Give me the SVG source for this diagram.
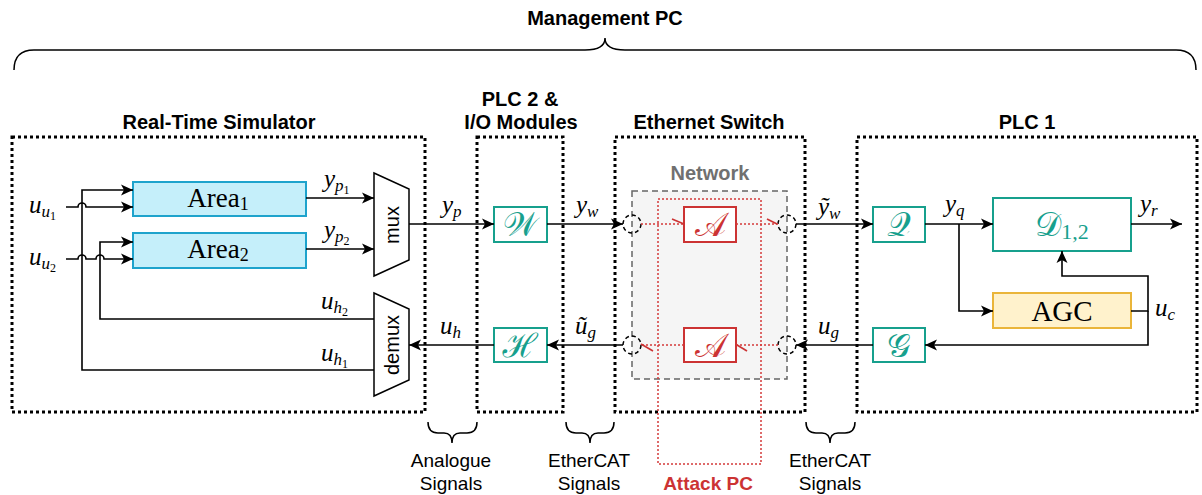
<svg xmlns="http://www.w3.org/2000/svg" width="1202" height="495" viewBox="0 0 1202 495">
  <style>
    .title { font-family: "Liberation Sans", Arial, sans-serif; font-weight: bold; font-size: 20px; fill: #000; text-anchor: middle; }
    .note { font-family: "Liberation Sans", Arial, sans-serif; font-size: 19px; fill: #000; text-anchor: middle; }
    .frame { fill: none; stroke: #000; stroke-width: 3; stroke-dasharray: 3 3; }
    .wire { fill: none; stroke: #000; stroke-width: 1.6; }
    .brace { fill: none; stroke: #000; stroke-width: 1.5; }
    .m { font-family: "Liberation Serif", "DejaVu Serif", serif; font-style: italic; font-size: 25px; fill: #000; }
    .up { font-style: normal; }
    .area { fill: #c5effa; stroke: #1ea3cc; stroke-width: 2; }
    .tealbox { fill: #fff; stroke: #17a08d; stroke-width: 2; }
    .redbox { fill: #fff; stroke: #cc3333; stroke-width: 2; }
    .agc { fill: #fff2cc; stroke: #eab53a; stroke-width: 2; }
    .cal { font-family: "DejaVu Serif", "Noto Sans", "DejaVu Sans", serif; font-size: 33px; text-anchor: middle; dominant-baseline: central; }
    .rm { font-family: "Liberation Serif", "DejaVu Serif", serif; font-size: 27px; fill: #000; text-anchor: middle; dominant-baseline: central; }
    .sans { font-family: "Liberation Sans", Arial, sans-serif; font-size: 20px; fill: #000; text-anchor: middle; dominant-baseline: central; }
    .port { fill: none; stroke: #000; stroke-width: 1.5; stroke-dasharray: 4 3; }
    .attack { fill: none; stroke: #d43a3a; stroke-width: 1.5; stroke-dasharray: 2 2; }
    .tick { stroke: #cc3333; stroke-width: 1.6; }
  </style>
  <defs>
    <marker id="arr" markerUnits="userSpaceOnUse" markerWidth="14" markerHeight="12" refX="12" refY="6" orient="auto">
      <path d="M0,0.5 L12,6 L0,11.5 L3,6 Z" fill="#000"/>
    </marker>
  </defs>

  <!-- overall management brace -->
  <g id="management-pc">
    <text class="title" x="605" y="25">Management PC</text>
    <path class="brace" d="M14,70 Q14,50 34,50 H585 Q605,50 605,38 Q605,50 625,50 H1176 Q1196,50 1196,70"/>
  </g>

  <!-- hardware frames -->
  <g id="rts-frame">
    <rect class="frame" x="12" y="137" width="413" height="275"/>
    <text class="title" x="219" y="129">Real-Time Simulator</text>
  </g>
  <g id="plc2-frame">
    <rect class="frame" x="477" y="137" width="86" height="275"/>
    <text class="title" x="520" y="106">PLC 2 &amp;</text>
    <text class="title" x="521" y="129">I/O Modules</text>
  </g>
  <g id="switch-frame">
    <rect class="frame" x="615" y="137" width="190" height="275"/>
    <text class="title" x="709" y="129">Ethernet Switch</text>
  </g>
  <g id="plc1-frame">
    <rect class="frame" x="857" y="137" width="340" height="275"/>
    <text class="title" x="1027" y="129">PLC 1</text>
  </g>

  <!-- network area inside the switch -->
  <g id="network">
    <rect x="632" y="191" width="155" height="188" fill="#f5f5f5" stroke="#666" stroke-width="1.5" stroke-dasharray="6 4"/>
    <text class="title" x="710" y="180" style="fill:#707070">Network</text>
  </g>
  <g id="attack-pc">
    <rect class="attack" x="658" y="199" width="103" height="265"/>
    <text class="title" x="708" y="490" style="fill:#cc3333;font-size:19px">Attack PC</text>
  </g>

  <!-- signal-type braces -->
  <g id="analogue-signals">
    <path class="brace" d="M428,422 Q428,433 438,433 H444 Q452,433 452,443 Q452,433 460,433 H467 Q477,433 477,422"/>
    <text class="note" x="451" y="467">Analogue</text>
    <text class="note" x="451" y="490">Signals</text>
  </g>
  <g id="ethercat-signals-1">
    <path class="brace" d="M566,422 Q566,433 576,433 H582 Q590,433 590,443 Q590,433 598,433 H604 Q614,433 614,422"/>
    <text class="note" x="589" y="467">EtherCAT</text>
    <text class="note" x="589" y="490">Signals</text>
  </g>
  <g id="ethercat-signals-2">
    <path class="brace" d="M806,422 Q806,433 816,433 H822 Q830,433 830,443 Q830,433 838,433 H845 Q855,433 855,422"/>
    <text class="note" x="830" y="467">EtherCAT</text>
    <text class="note" x="830" y="490">Signals</text>
  </g>

  <!-- blocks -->
  <g id="area1">
    <rect class="area" x="133" y="182" width="173" height="34"/>
    <text class="rm" x="218" y="198">Area<tspan font-size="18" dy="6">1</tspan></text>
  </g>
  <g id="area2">
    <rect class="area" x="133" y="233" width="173" height="35"/>
    <text class="rm" x="218" y="249">Area<tspan font-size="18" dy="6">2</tspan></text>
  </g>
  <g id="mux">
    <polygon points="374,173 409,189 409,260 374,276" fill="#fff" stroke="#000" stroke-width="1.5"/>
    <text class="sans" x="392" y="225" transform="rotate(-90 392 225)">mux</text>
  </g>
  <g id="demux">
    <polygon points="374,293 409,309 409,380 374,396" fill="#fff" stroke="#000" stroke-width="1.5"/>
    <text class="sans" x="392" y="345" transform="rotate(-90 392 345)">demux</text>
  </g>
  <g id="w-block">
    <rect class="tealbox" x="494" y="207" width="53" height="35"/>
    <text class="cal" x="520" y="224" fill="#17a08d">𝒲</text>
  </g>
  <g id="h-block">
    <rect class="tealbox" x="494" y="328" width="53" height="34"/>
    <text class="cal" x="520" y="345" fill="#17a08d">ℋ</text>
  </g>
  <g id="attack-up">
    <rect class="redbox" x="684" y="207" width="52" height="35"/>
    <text class="cal" x="710" y="224" fill="#cc3333">𝒜</text>
  </g>
  <g id="attack-down">
    <rect class="redbox" x="684" y="328" width="52" height="34"/>
    <text class="cal" x="710" y="345" fill="#cc3333">𝒜</text>
  </g>
  <g id="q-block">
    <rect class="tealbox" x="873" y="207" width="52" height="35"/>
    <text class="cal" x="899" y="224" fill="#17a08d">𝒬</text>
  </g>
  <g id="g-block">
    <rect class="tealbox" x="873" y="328" width="52" height="34"/>
    <text class="cal" x="899" y="345" fill="#17a08d">𝒢</text>
  </g>
  <g id="d-block">
    <rect class="tealbox" x="993" y="198" width="138" height="53"/>
    <text class="cal" x="1062" y="224" fill="#17a08d">𝒟<tspan font-family="Liberation Serif" font-size="22" dy="7">1,2</tspan></text>
  </g>
  <g id="agc">
    <rect class="agc" x="993" y="293" width="138" height="35"/>
    <text class="rm" x="1062" y="311" style="font-size:29px">AGC</text>
  </g>

  <!-- port taps on the switch -->
  <g id="ports">
    <circle class="port" cx="632" cy="224" r="9"/>
    <circle class="port" cx="787" cy="224" r="9"/>
    <circle class="port" cx="632" cy="345" r="9"/>
    <circle class="port" cx="787" cy="345" r="9"/>
  </g>

  <!-- connectors -->
  <g id="connectors">
    <path class="wire" d="M306,198 H374" marker-end="url(#arr)"/>
    <path class="wire" d="M306,249 H374" marker-end="url(#arr)"/>
    <path class="wire" d="M409,224 H494" marker-end="url(#arr)"/>
    <path class="wire" d="M547,224 H623" marker-end="url(#arr)"/>
    <path class="wire" d="M796,224 H873" marker-end="url(#arr)"/>
    <path class="wire" d="M925,224 H993" marker-end="url(#arr)"/>
    <path class="wire" d="M959,224 V311 H993" marker-end="url(#arr)"/>
    <path class="wire" d="M1131,224 H1182" marker-end="url(#arr)"/>
    <path class="wire" d="M1131,311 H1148 V276 H1062 V251" marker-end="url(#arr)"/>
    <path class="wire" d="M1148,311 V345 H925" marker-end="url(#arr)"/>
    <path class="wire" d="M873,345 H796" marker-end="url(#arr)"/>
    <path class="wire" d="M623,345 H547" marker-end="url(#arr)"/>
    <path class="wire" d="M494,345 H409" marker-end="url(#arr)"/>
    <path class="wire" d="M374,370 H82 V190 H133" marker-end="url(#arr)"/>
    <path class="wire" d="M374,319 H100 V242 H133" marker-end="url(#arr)"/>
    <path class="wire" d="M66,207 H78 A4,4 0 0 1 86,207 H133" marker-end="url(#arr)"/>
    <path class="wire" d="M66,259 H78 A4,4 0 0 1 86,259 H96 A4,4 0 0 1 104,259 H133" marker-end="url(#arr)"/>
    <!-- intercepted paths through the attack PC -->
    <path class="attack" d="M641,224 H684"/>
    <path class="attack" d="M736,224 H778"/>
    <path class="attack" d="M778,345 H736"/>
    <path class="attack" d="M684,345 H641"/>
    <line class="tick" x1="672" y1="219" x2="684" y2="224"/>
    <line class="tick" x1="767" y1="219" x2="777" y2="224"/>
    <line class="tick" x1="737" y1="345" x2="747" y2="351"/>
    <line class="tick" x1="641" y1="344" x2="653" y2="351"/>
  </g>

  <!-- signal labels -->
  <g id="labels">
    <text class="m" x="29" y="213">u<tspan font-size="17" dy="4">u</tspan><tspan class="up" font-size="12" dy="3">1</tspan></text>
    <text class="m" x="29" y="265">u<tspan font-size="17" dy="4">u</tspan><tspan class="up" font-size="12" dy="3">2</tspan></text>
    <text class="m" x="324" y="187">y<tspan font-size="17" dy="4">p</tspan><tspan class="up" font-size="12" dy="3">1</tspan></text>
    <text class="m" x="324" y="238">y<tspan font-size="17" dy="4">p</tspan><tspan class="up" font-size="12" dy="3">2</tspan></text>
    <text class="m" x="321" y="309">u<tspan font-size="17" dy="4">h</tspan><tspan class="up" font-size="12" dy="3">2</tspan></text>
    <text class="m" x="321" y="361">u<tspan font-size="17" dy="4">h</tspan><tspan class="up" font-size="12" dy="3">1</tspan></text>
    <text class="m" x="442" y="213">y<tspan font-size="17" dy="4">p</tspan></text>
    <text class="m" x="440" y="334">u<tspan font-size="17" dy="4">h</tspan></text>
    <text class="m" x="576" y="213">y<tspan font-size="17" dy="4">w</tspan></text>
    <text class="m" x="575" y="334">ũ<tspan font-size="17" dy="4">g</tspan></text>
    <text class="m" x="818" y="215">ỹ<tspan font-size="17" dy="4">w</tspan></text>
    <text class="m" x="818" y="334">u<tspan font-size="17" dy="4">g</tspan></text>
    <text class="m" x="945" y="212">y<tspan font-size="17" dy="4">q</tspan></text>
    <text class="m" x="1140" y="212">y<tspan font-size="17" dy="4">r</tspan></text>
    <text class="m" x="1155" y="316">u<tspan font-size="17" dy="4">c</tspan></text>
  </g>
</svg>
